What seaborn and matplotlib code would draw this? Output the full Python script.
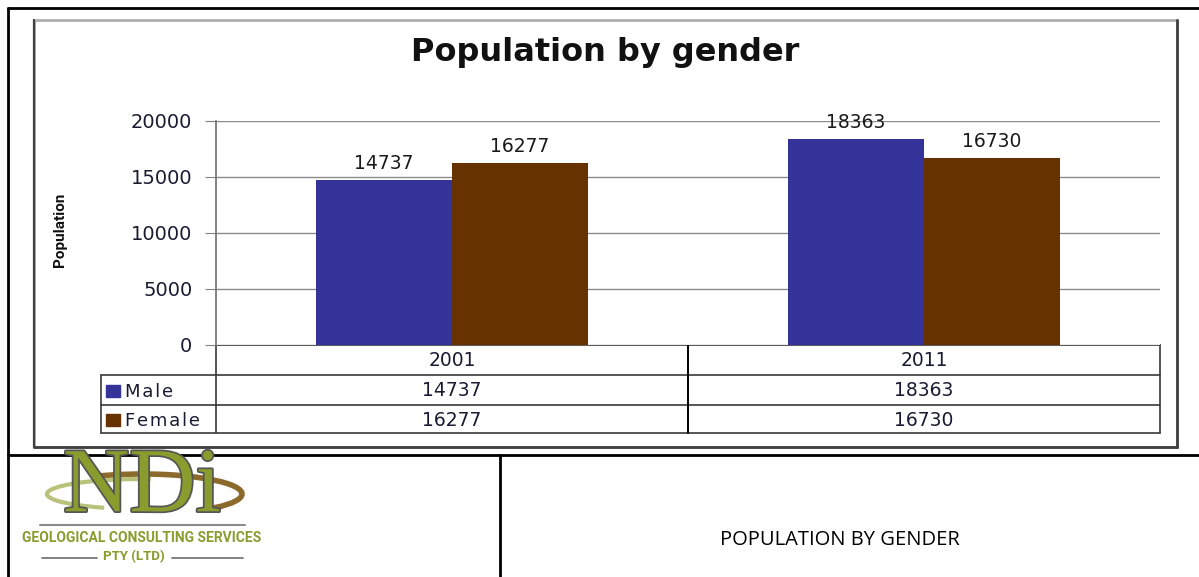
import numpy as np
import pandas as pd
import matplotlib
matplotlib.use("Agg")
import matplotlib.pyplot as plt
import matplotlib.transforms as mtransforms
from matplotlib.patches import Rectangle, Arc
import matplotlib.patheffects as pe
import seaborn as sns

# ----- dati -----
years = ["2001", "2011"]
male = [14737, 18363]
female = [16277, 16730]
series_names = ["Male", "Female"]
colors = {"Male": "#333399", "Female": "#663300"}
y_ticks = [0, 5000, 10000, 15000, 20000]

df = pd.DataFrame({
    "year": years * 2,
    "gender": ["Male"] * len(years) + ["Female"] * len(years),
    "population": male + female,
})

W, H = 1199, 577
sns.set_style("white")
plt.rcParams["font.family"] = ["DejaVu Sans"]
txt_col = "#1a1a33"

fig = plt.figure(figsize=(W / 100, H / 100), dpi=100)

# asse di sfondo in pixel per cornici, tabella e intestazione
bg = fig.add_axes([0, 0, 1, 1], zorder=0)
bg.set_xlim(0, W)
bg.set_ylim(H, 0)
bg.axis("off")

# asse del grafico
x0, x1, y0, y1 = 216, 1160, 121, 345
ax = fig.add_axes([x0 / W, 1 - y1 / H, (x1 - x0) / W, (y1 - y0) / H], zorder=2)
sns.barplot(data=df, x="year", y="population", hue="gender", hue_order=series_names,
            palette=colors, width=0.576, saturation=1, linewidth=0, ax=ax, legend=False)
ax.set_ylim(0, 20000)
ax.set_xlim(-0.5, len(years) - 0.5)
ax.set_yticks(y_ticks)
ax.set_yticklabels([str(v) for v in y_ticks], fontsize=14, color=txt_col)
ax.tick_params(axis="y", length=8, color="#808080", pad=9, left=True)
ax.set_xticks([])
ax.set_xlabel("")
ax.set_ylabel("")
ax.yaxis.grid(True, color="#8c8c8c", linewidth=1)
ax.set_axisbelow(True)
for s in ["top", "right", "bottom"]:
    ax.spines[s].set_visible(False)
ax.spines["left"].set_color("#7a7a7a")
ax.spines["left"].set_linewidth(1.3)

for cont in ax.containers:
    ax.bar_label(cont, fmt="%d", padding=5, fontsize=13.5, color="#1a1a1a")

# cornice esterna del documento
line = dict(color="black", linewidth=2)
bg.plot([8, W], [8, 8], **line)
bg.plot([8, 8], [8, H], **line)
bg.plot([8, W], [455, 455], **line)
bg.plot([500, 500], [455, H], **line)

# riquadro del grafico
bg.add_patch(Rectangle((34, 20), 1143, 427, fill=False, edgecolor="#b0b0b0", linewidth=2))
bg.plot([1177, 1177], [20, 447], color="#404040", lw=2)
bg.plot([34, 1177], [447, 447], color="#404040", lw=2)
bg.plot([34, 34], [20, 447], color="#404040", lw=1.6)

bg.text(605, 52, "Population by gender", ha="center", va="center", fontsize=23,
        fontweight="bold", color="#111111")
bg.text(60, 230, "Population", ha="center", va="center", rotation=90, fontsize=11,
        fontweight="bold", family=["Roboto", "DejaVu Sans"], color="#111111")

# tabella dati sotto il grafico
tc = "#3a3a3a"
bg.plot([x0, x1], [y1, y1], color=tc, lw=1.2)
for yy in [375, 405, 433]:
    bg.plot([101, x1], [yy, yy], color=tc, lw=1.2)
bg.plot([x0, x0], [y1, 433], color=tc, lw=1.2)
bg.plot([101, 101], [375, 433], color=tc, lw=1.2)
bg.plot([x1, x1], [y1, 433], color=tc, lw=1.2)
bg.plot([688, 688], [y1, 433], color="black", lw=1.4)

tr = mtransforms.blended_transform_factory(ax.transData, bg.transData)
row_y = [360, 391, 420]
for i, yr in enumerate(years):
    for yy, label in zip(row_y, [yr, str(male[i]), str(female[i])]):
        t = ax.text(i, yy, label, transform=tr, ha="center", va="center", fontsize=13.5,
                    color=txt_col)
        t.set_clip_on(False)

for name, yy in zip(series_names, row_y[1:]):
    bg.add_patch(Rectangle((106, yy - 6), 14, 12, color=colors[name]))
    bg.text(125, yy + 1, "\u200a".join(name), ha="left", va="center",
            fontsize=13, color=txt_col)

# intestazione in basso: logo e titolo
green = "#8a9c2e"
bg.add_patch(Arc((142, 494), 200, 40, theta1=200, theta2=375, color="#8b6a2c", lw=4))
bg.add_patch(Arc((142, 494), 190, 30, theta1=160, theta2=300, color="#b8c27a", lw=3))
t = bg.text(142, 489, "NDi", ha="center", va="center", fontsize=66,
            family=["Liberation Serif", "DejaVu Serif"], color=green,
            path_effects=[pe.withStroke(linewidth=2.5, foreground="#555555")])
t.set_clip_box(mtransforms.TransformedBbox(
    mtransforms.Bbox([[0, 0], [1, (H - 456) / H]]), fig.transFigure))
bg.plot([40, 245], [525, 525], color="#8c8c8c", lw=1.5)
bg.text(142, 538, "GEOLOGICAL CONSULTING SERVICES", ha="center", va="center", fontsize=10,
        fontweight="bold", family=["Roboto", "DejaVu Sans"], color=green)
bg.text(134, 557, "PTY (LTD)", ha="center", va="center", fontsize=9.5, fontweight="bold",
        family=["Roboto", "DejaVu Sans"], color=green)
bg.plot([42, 97], [558, 558], color="#777777", lw=1.3)
bg.plot([172, 243], [558, 558], color="#777777", lw=1.3)

bg.text(840, 540, "POPULATION BY GENDER", ha="center", va="center", fontsize=14.5,
        family=["Open Sans", "DejaVu Sans"], color="black")

fig.savefig("out.png", dpi=100)
